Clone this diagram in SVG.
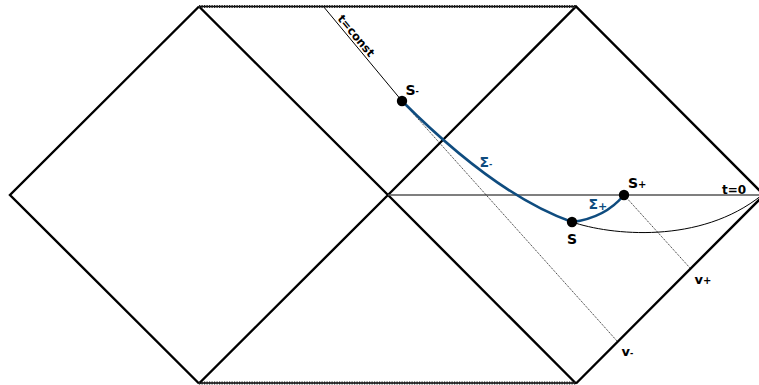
<svg xmlns="http://www.w3.org/2000/svg" width="759" height="385" viewBox="0 0 759 385">
<style>
.edge{stroke:#000;stroke-width:2.4;fill:none;stroke-linejoin:miter}
.sing{stroke:#000;stroke-width:1.3;fill:none}
.singd{stroke:#222;stroke-width:3;fill:none;stroke-dasharray:1.2 1.3}
.thin{stroke:#000;stroke-width:1;fill:none}
.dot{stroke:#000;stroke-width:0.8;fill:none;stroke-dasharray:1.2 1}
.t0{stroke:#555;stroke-width:1.6;fill:none}
.blue{stroke:#0f4c7f;stroke-width:2.6;fill:none}
.lbl{font-family:"DejaVu Sans",sans-serif;font-weight:bold;fill:#000}
.bl{font-family:"DejaVu Sans",sans-serif;font-weight:bold;fill:#0f4c7f}
</style>
<rect width="759" height="385" fill="#fff"/>
<g id="penrose">
<path class="edge" d="M199,6.5 L10,195 L199,383.5 M199,6.5 L388,195 L576,383.5 M199,383.5 L388,195 L576,6.5 L764,195 L576,383.5"/>
<line class="sing" x1="199" y1="6.5" x2="576" y2="6.5"/>
<line class="singd" x1="199" y1="6.5" x2="576" y2="6.5"/>
<line class="sing" x1="199" y1="383" x2="576" y2="383"/>
<line class="singd" x1="199" y1="383" x2="576" y2="383"/>
</g>
<g id="connectors">
<line class="t0" x1="388" y1="195" x2="759" y2="195"/>
<path class="thin" d="M323,6 L402,101"/>
<line class="dot" x1="402" y1="101" x2="617" y2="341"/>
<line class="dot" x1="624" y1="195" x2="690" y2="268"/>
<path class="thin" d="M572,222 C610,235 700,245 762,195"/>
<path class="blue" d="M402,101 Q496.6,195.6 572,222"/>
<path class="blue" d="M572,222 Q605,218 624,195"/>
</g>
<g id="S-minus">
<circle cx="402" cy="101" r="5.2" fill="#000"/>
<text class="lbl" x="405.5" y="95" font-size="14">S<tspan font-size="8" dy="-1">-</tspan></text>
</g>
<g id="S">
<circle cx="572" cy="222" r="5.2" fill="#000"/>
<text class="lbl" x="567" y="244" font-size="14">S</text>
</g>
<g id="S-plus">
<circle cx="624" cy="195" r="5.2" fill="#000"/>
<text class="lbl" x="628" y="188" font-size="14">S<tspan font-size="10" dy="0">+</tspan></text>
</g>
<g id="labels">
<text class="bl" x="479.5" y="167" font-size="14">Σ<tspan font-size="8">-</tspan></text>
<text class="bl" x="588.5" y="208.5" font-size="14">Σ<tspan font-size="11" dy="1.5">+</tspan></text>
<text class="lbl" x="722" y="193.5" font-size="12">t=0</text>
<text class="lbl" x="694.5" y="283.5" font-size="13">v<tspan font-size="10" dy="0">+</tspan></text>
<text class="lbl" x="621.5" y="355.5" font-size="13">v<tspan font-size="8">-</tspan></text>
<text class="lbl" font-size="11.5" transform="translate(337,19) rotate(50.3)">t=const</text>
</g>
</svg>
